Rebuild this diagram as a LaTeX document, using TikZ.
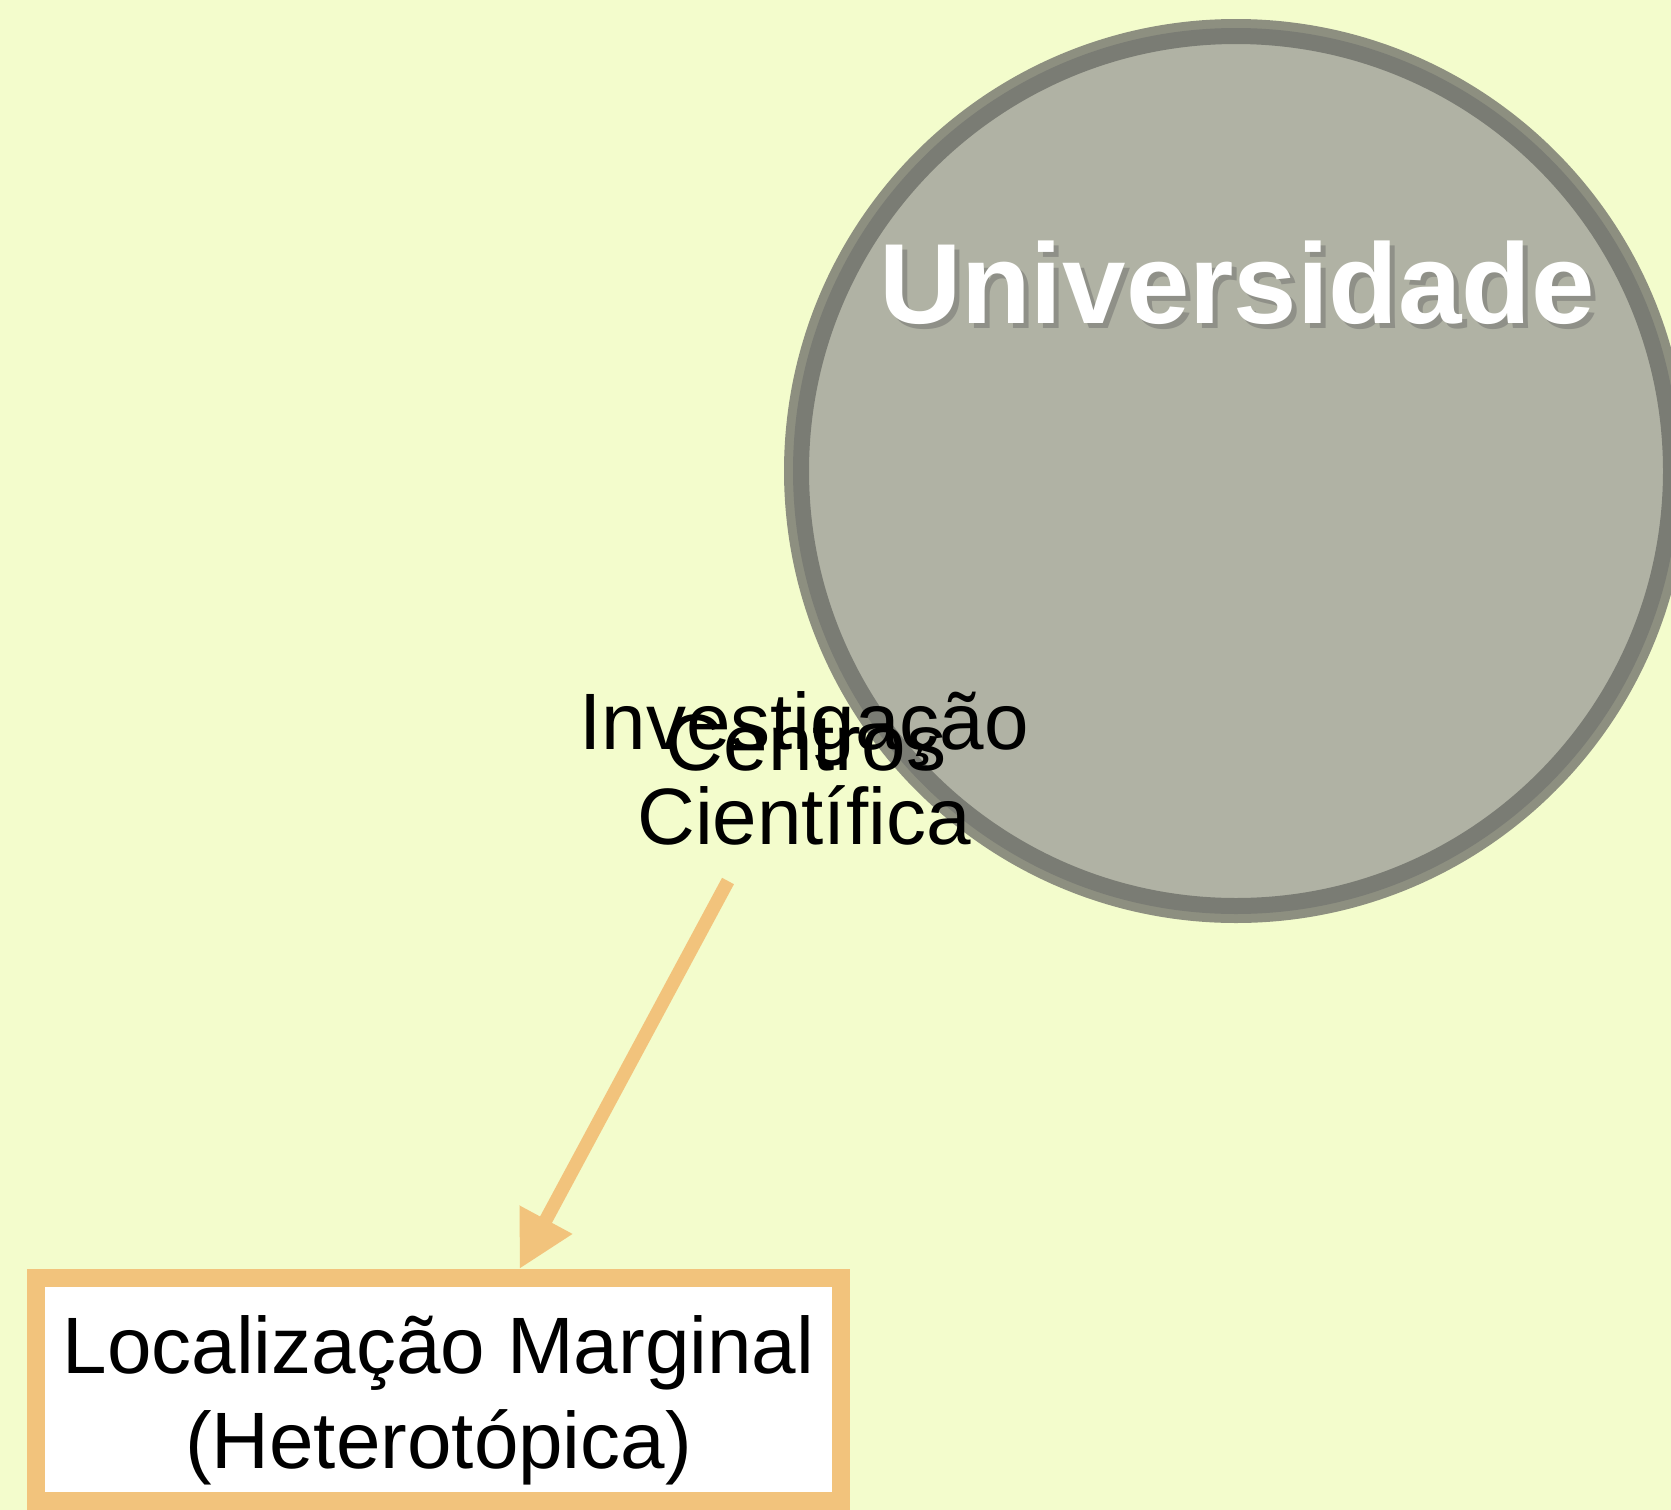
\documentclass[tikz,border=0pt]{standalone}
\usepackage{fontspec}
\setmainfont{Liberation Sans}
\usepackage{xcolor}
\definecolor{Cream}{RGB}{243,252,204}
\definecolor{Stone}{RGB}{176,178,164}
\definecolor{Slate}{RGB}{122,124,116}
\definecolor{Ash}{RGB}{141,143,128}
\definecolor{Shade}{RGB}{143,144,136}
\definecolor{Sand}{RGB}{242,195,124}
\definecolor{Black}{RGB}{0,0,0}
\definecolor{White}{RGB}{255,255,255}
\usetikzlibrary{arrows.meta}

\tikzset{
	bigtext/.style={font=\fontsize{80}{95}\selectfont, align=center, inner sep=0pt, color=Black},
	unititle/.style={font=\fontsize{114}{130}\selectfont\bfseries, inner sep=0pt, anchor=base},
}

\begin{document}
\begin{tikzpicture}[x=1pt, y=-1pt]
		
		% Background
		\fill[Cream] (0,0) rectangle (1671,1510);
		\useasboundingbox (0,0) rectangle (1671,1510);
		
		% Circle
		\draw[Ash, line width=10pt] (1236,471) circle (447);
		\node[circle, fill=Stone, draw=Slate, line width=16pt, minimum size=870pt, inner sep=0pt] (univ) at (1236,471) {};
		
		% Rectangle
		\node[draw=Sand, fill=White, line width=18pt, minimum width=805pt, minimum height=223pt, inner sep=0pt] (margin) at (438.5,1389.5) {};
		
		% Text
		\node[unititle, color=Shade] (unishadow) at (1242,328) {Universidade};
		\node[unititle, color=White] (unilabel) at (1237,323) {Universidade};
		
		\node[bigtext] (marginlabel) at (438.5,1400) {Localização Marginal\\(Heterotópica)};
		
		\node[bigtext, anchor=base] (centros) at (806,770) {Centros};
		\node[bigtext] (investig) at (804,768) {Investigação\\Científica};
		
		% Lines
		\coordinate (arrstart) at (728,881);
		\draw[-{Triangle[length=56pt, width=56pt]}, Sand, line width=13.5pt] (arrstart) -- ([xshift=81pt]margin.north);
		
	\end{tikzpicture}
\end{document}
